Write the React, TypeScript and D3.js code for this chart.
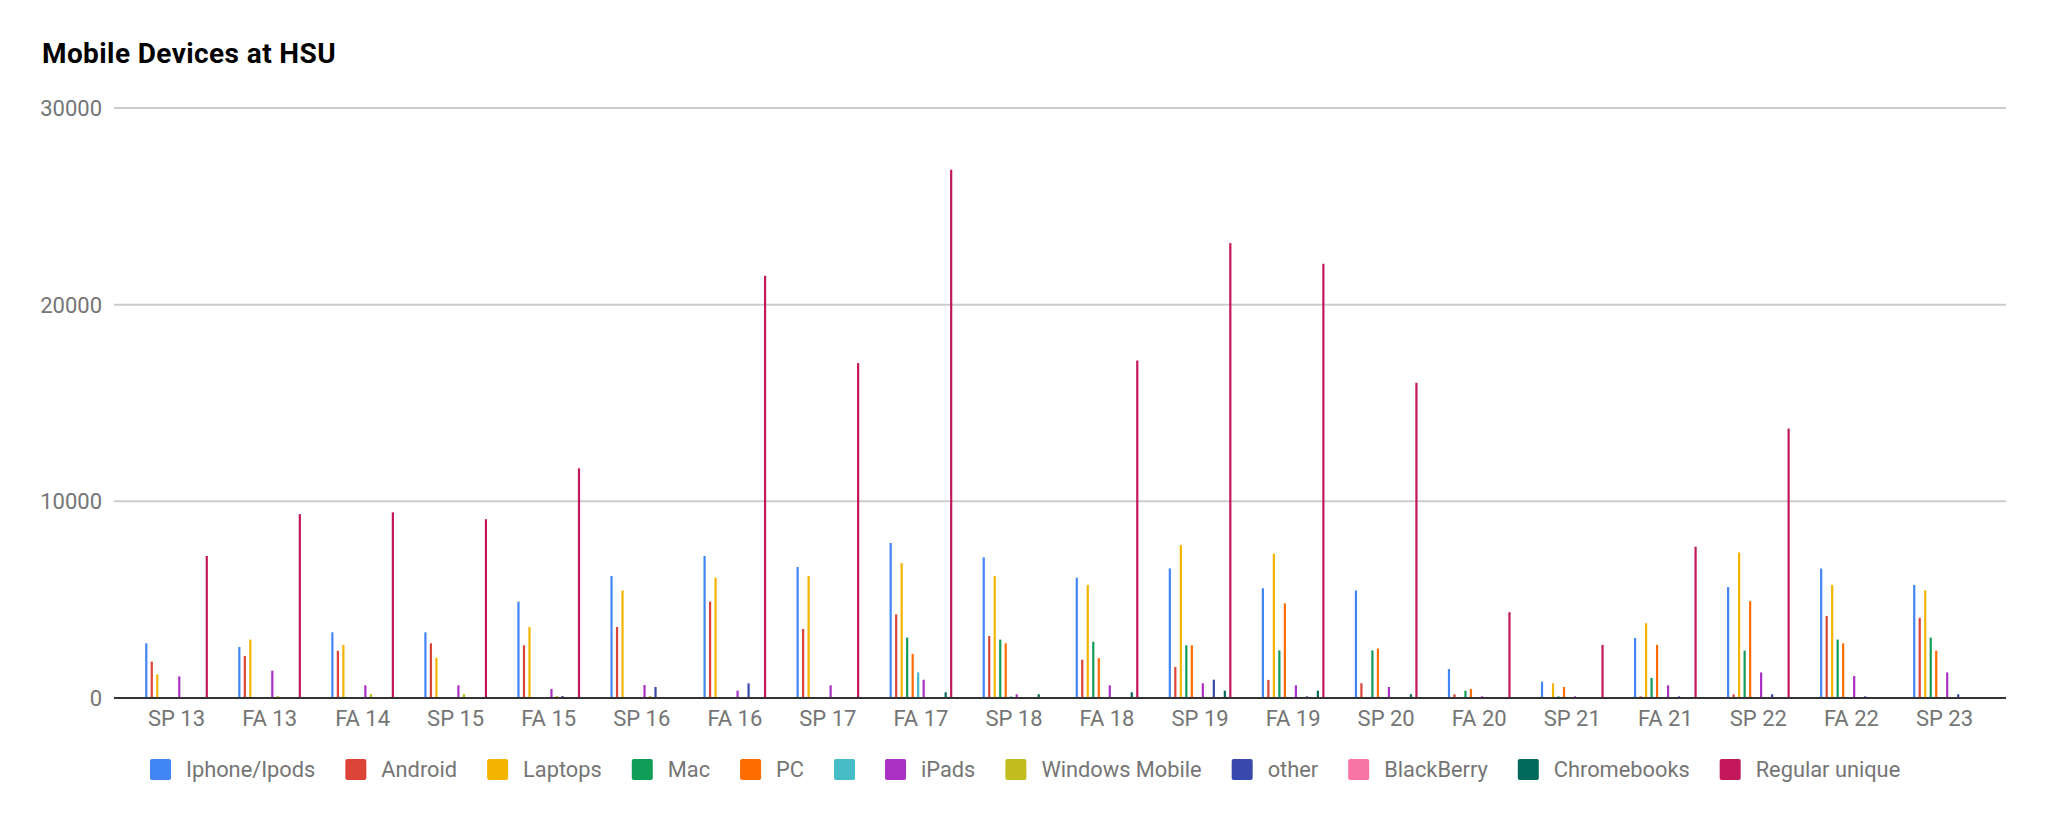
import React, { useEffect, useRef } from 'react';
import * as d3 from 'd3';

const terms = ['SP 13', 'FA 13', 'FA 14', 'SP 15', 'FA 15', 'SP 16', 'FA 16', 'SP 17', 'FA 17', 'SP 18',
  'FA 18', 'SP 19', 'FA 19', 'SP 20', 'FA 20', 'SP 21', 'FA 21', 'SP 22', 'FA 22', 'SP 23'];

const seriesNames = ['Iphone/Ipods', 'Android', 'Laptops', 'Mac', 'PC', '', 'iPads', 'Windows Mobile',
  'other', 'BlackBerry', 'Chromebooks', 'Regular unique'];
const seriesColors = ['#4285f4', '#db4437', '#f4b400', '#0f9d58', '#ff6d01', '#46bdc6', '#ab30c4',
  '#c2bd1f', '#3949ab', '#f774a4', '#00695c', '#c2185b'];

const iphone = [2780, 2590, 3340, 3340, 4900, 6200, 7220, 6660, 7880, 7150, 6120, 6590, 5580, 5470, 1470, 830, 3050, 5640, 6580, 5750];
const android = [1850, 2140, 2400, 2780, 2680, 3610, 4900, 3510, 4250, 3150, 1950, 1580, 920, 750, 190, 0, 85, 190, 4170, 4080];
const laptops = [1200, 2970, 2700, 2050, 3610, 5470, 6120, 6200, 6860, 6200, 5750, 7780, 7340, 0, 0, 745, 3800, 7400, 5750, 5470];
const mac = [0, 0, 0, 0, 0, 0, 0, 0, 3070, 2970, 2860, 2680, 2420, 2420, 370, 85, 1020, 2410, 2970, 3070];
const pc = [0, 0, 0, 0, 0, 0, 0, 0, 2240, 2780, 2030, 2680, 4810, 2510, 460, 560, 2700, 4920, 2780, 2410];
const unnamed = [0, 0, 0, 0, 0, 0, 0, 0, 1300, 85, 0, 0, 0, 0, 0, 0, 0, 0, 0, 0];
const ipads = [1100, 1390, 645, 645, 460, 660, 370, 645, 930, 190, 645, 745, 645, 560, 85, 85, 645, 1300, 1120, 1300];
const windowsMobile = [0, 100, 200, 200, 100, 100, 0, 0, 0, 0, 0, 0, 0, 0, 0, 0, 0, 0, 0, 0];
const other = [0, 0, 0, 0, 100, 560, 745, 0, 0, 0, 0, 930, 85, 0, 0, 0, 85, 190, 85, 190];
const blackBerry = [0, 0, 0, 0, 0, 0, 0, 0, 0, 0, 0, 0, 0, 0, 0, 0, 0, 0, 0, 0];
const chromebooks = [0, 0, 0, 0, 0, 0, 0, 0, 290, 190, 290, 370, 370, 190, 0, 0, 0, 0, 0, 0];
const regularUnique = [7220, 9350, 9440, 9090, 11680, 0, 21470, 17030, 26860, 0, 17160, 23130, 22080, 16030, 4360, 2700, 7690, 13700, 0, 0];

const yTicks = [0, 10000, 20000, 30000];

export default function App() {
  const ref = useRef<SVGSVGElement>(null);

  useEffect(() => {
    if (!ref.current) return;
    document.body.style.margin = '0';

    const values = [iphone, android, laptops, mac, pc, unnamed, ipads, windowsMobile, other, blackBerry, chromebooks, regularUnique];
    const font = 'Roboto, sans-serif';

    const svg = d3.select(ref.current);
    svg.selectAll('*').remove();

    const x = d3.scaleBand().domain(terms).range([130, 1991]);
    const inner = d3.scaleBand<number>()
      .domain(d3.range(seriesNames.length))
      .range([-33, 33])
      .paddingInner(0.6)
      .paddingOuter(0.3);
    const y = d3.scaleLinear().domain([0, 30000]).range([698, 108]);

    // Title
    svg.append('text')
      .attr('x', 42)
      .attr('y', 63)
      .attr('font-family', font)
      .attr('font-size', 28)
      .attr('font-weight', 'bold')
      .attr('letter-spacing', 0.4)
      .attr('fill', '#000')
      .text('Mobile Devices at HSU');

    // Gridlines + y labels
    svg.append('g').selectAll('line')
      .data(yTicks.filter(d => d > 0))
      .enter()
      .append('line')
      .attr('x1', 114)
      .attr('x2', 2006)
      .attr('y1', d => y(d))
      .attr('y2', d => y(d))
      .attr('stroke', '#cccccc')
      .attr('stroke-width', 2);

    svg.append('g').selectAll('text')
      .data(yTicks)
      .enter()
      .append('text')
      .attr('x', 102)
      .attr('y', d => y(d))
      .attr('dy', '0.36em')
      .attr('text-anchor', 'end')
      .attr('font-family', font)
      .attr('font-size', 22)
      .attr('fill', '#757575')
      .text(d => String(d));

    // Bars
    const cells: { term: string; s: number; v: number }[] = [];
    terms.forEach((term, i) => {
      values.forEach((arr, s) => {
        if (arr[i] > 0) cells.push({ term, s, v: arr[i] });
      });
    });

    svg.append('g').selectAll('rect')
      .data(cells)
      .enter()
      .append('rect')
      .attr('x', d => (x(d.term) as number) + x.bandwidth() / 2 + (inner(d.s) as number))
      .attr('width', inner.bandwidth())
      .attr('y', d => y(d.v))
      .attr('height', d => y(0) - y(d.v))
      .attr('fill', d => seriesColors[d.s]);

    // Baseline
    svg.append('line')
      .attr('x1', 114)
      .attr('x2', 2006)
      .attr('y1', y(0))
      .attr('y2', y(0))
      .attr('stroke', '#333333')
      .attr('stroke-width', 2);

    // X labels
    svg.append('g').selectAll('text')
      .data(terms)
      .enter()
      .append('text')
      .attr('x', d => (x(d) as number) + x.bandwidth() / 2)
      .attr('y', 726)
      .attr('text-anchor', 'middle')
      .attr('font-family', font)
      .attr('font-size', 22)
      .attr('fill', '#757575')
      .text(d => d);

    // Legend
    const legend = svg.append('g');
    let cx = 150;
    seriesNames.forEach((name, i) => {
      legend.append('rect')
        .attr('x', cx)
        .attr('y', 759)
        .attr('width', 21)
        .attr('height', 21)
        .attr('rx', 2)
        .attr('fill', seriesColors[i]);
      cx += 21;
      if (name) {
        const t = legend.append('text')
          .attr('x', cx + 15)
          .attr('y', 777)
          .attr('font-family', font)
          .attr('font-size', 21.8)
          .attr('fill', '#757575')
          .text(name);
        cx += 15 + (t.node() as SVGTextElement).getComputedTextLength();
      }
      cx += 30;
    });
  }, []);

  return <svg ref={ref} width={2048} height={821} style={{ display: 'block', background: '#fff' }} />;
}
